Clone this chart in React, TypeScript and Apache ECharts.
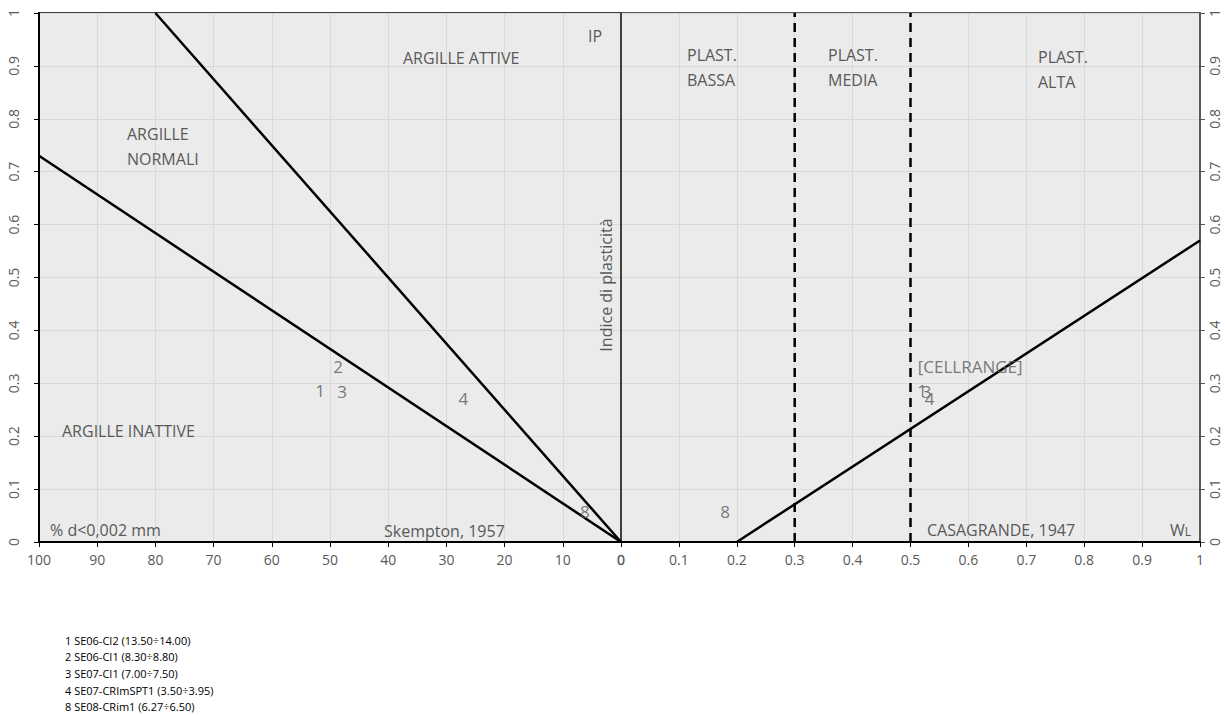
import { useEffect, useRef } from 'react';
import * as echarts from 'echarts';

// Samples: id, clay fraction (% d<0,002 mm), plasticity index, liquid limit
const sampleIds = ['1', '2', '3', '4', '8'];
const clayFraction = [51.7, 48.6, 47.9, 27.1, 6.2];
const plasticityIndex = [0.287, 0.331, 0.284, 0.272, 0.057];
const liquidLimit = [0.52, 0.603, 0.528, 0.533, 0.18];
const casagrandeLabels = ['1', '[CELLRANGE]', '3', '4', '8'];

const legendLines = [
  '1 SE06-CI2 (13.50÷14.00)',
  '2 SE06-CI1 (8.30÷8.80)',
  '3 SE07-CI1 (7.00÷7.50)',
  '4 SE07-CRImSPT1 (3.50÷3.95)',
  '8 SE08-CRim1 (6.27÷6.50)',
];

// Skempton activity lines (clay %, IP)
const inactiveLimit = [[100, 0.73], [0, 0]];
const activeLimit = [[80, 1], [0, 0]];
// Casagrande A-line (WL, IP)
const aLine = [[0.2, 0], [1, 0.57]];
// Plasticity class boundaries on WL
const plasticityBounds = [0.3, 0.5];

const FONT = 'Open Sans';
const GREY = '#595959';

function buildOption() {
  const axisLabel = { color: GREY, fontFamily: FONT, fontSize: 14 };
  const splitLine = { show: true, lineStyle: { color: '#d9d9d9', width: 1 } };
  const blackLine = { color: '#000', width: 2.5 };
  const pointLabel = {
    show: true,
    position: 'inside',
    color: GREY,
    fontFamily: FONT,
    fontSize: 17,
  };

  const txt = (text: string, x: number, y: number, extra: any = {}, rotation = 0) => ({
    type: 'text',
    x,
    y,
    rotation,
    silent: true,
    z: 100,
    style: {
      text,
      fill: GREY,
      font: `16px "${FONT}"`,
      verticalAlign: 'middle',
      align: 'left',
      lineHeight: 25,
      ...extra,
    },
  });

  return {
    animation: false,
    backgroundColor: '#fff',
    grid: [
      { left: 39, top: 13, width: 582, height: 529, show: true, backgroundColor: '#ebebeb', borderColor: '#404040', borderWidth: 2 },
      { left: 621, top: 13, width: 579, height: 529, show: true, backgroundColor: '#ebebeb', borderColor: '#595959', borderWidth: 2 },
    ],
    xAxis: [
      {
        gridIndex: 0, type: 'value', inverse: true, min: 0, max: 100, interval: 10,
        axisLine: { show: true, onZero: false, lineStyle: { color: '#000', width: 2 } },
        axisTick: { show: true, length: 5, lineStyle: { color: '#000' } },
        axisLabel: { ...axisLabel, margin: 10 },
        splitLine,
      },
      {
        gridIndex: 1, type: 'value', min: 0, max: 1, interval: 0.1,
        axisLine: { show: true, onZero: false, lineStyle: { color: '#000', width: 2 } },
        axisTick: { show: true, length: 5, lineStyle: { color: '#000' } },
        axisLabel: { ...axisLabel, margin: 10 },
        splitLine,
      },
    ],
    yAxis: [
      {
        gridIndex: 0, type: 'value', min: 0, max: 1, interval: 0.1,
        axisLine: { show: true, onZero: false, lineStyle: { color: '#000', width: 2 } },
        axisTick: { show: true, length: 5, lineStyle: { color: '#000' } },
        axisLabel: { ...axisLabel, rotate: 90, margin: 19 },
        splitLine,
      },
      {
        gridIndex: 1, type: 'value', position: 'right', min: 0, max: 1, interval: 0.1,
        axisLine: { show: true, onZero: false, lineStyle: { color: '#595959', width: 2 } },
        axisTick: { show: true, length: 5, lineStyle: { color: '#595959' } },
        axisLabel: { ...axisLabel, rotate: 90, margin: 7 },
        splitLine,
      },
      {
        // divider between the two diagrams (IP axis of the Casagrande chart)
        gridIndex: 1, type: 'value', position: 'left', min: 0, max: 1, interval: 0.1,
        axisLine: { show: true, onZero: false, lineStyle: { color: '#404040', width: 2 } },
        axisTick: { show: false },
        axisLabel: { show: false },
        splitLine: { show: false },
      },
    ],
    series: [
      { type: 'line', xAxisIndex: 0, yAxisIndex: 0, data: inactiveLimit, symbol: 'none', lineStyle: blackLine, silent: true },
      { type: 'line', xAxisIndex: 0, yAxisIndex: 0, data: activeLimit, symbol: 'none', lineStyle: blackLine, silent: true },
      {
        type: 'scatter', xAxisIndex: 0, yAxisIndex: 0, symbolSize: 1,
        itemStyle: { color: 'rgba(0,0,0,0)' },
        label: { ...pointLabel, formatter: (p: any) => p.name },
        data: sampleIds.map((id, i) => ({ name: id, value: [clayFraction[i], plasticityIndex[i]] })),
        z: 10,
      },
      { type: 'line', xAxisIndex: 1, yAxisIndex: 1, data: aLine, symbol: 'none', lineStyle: blackLine, silent: true },
      ...plasticityBounds.map((wl) => ({
        type: 'line', xAxisIndex: 1, yAxisIndex: 1, data: [[wl, 0], [wl, 1]], symbol: 'none', silent: true,
        lineStyle: { color: '#000', width: 2.5, type: [9, 6] },
      })),
      {
        type: 'scatter', xAxisIndex: 1, yAxisIndex: 1, symbolSize: 1,
        itemStyle: { color: 'rgba(0,0,0,0)' },
        label: { ...pointLabel, formatter: (p: any) => p.name },
        data: sampleIds.map((_, i) => ({ name: casagrandeLabels[i], value: [liquidLimit[i], plasticityIndex[i]] })),
        z: 10,
      },
    ],
    graphic: [
      txt('ARGILLE ATTIVE', 403, 58),
      txt('IP', 588, 36),
      txt('ARGILLE\nNORMALI', 127, 146),
      txt('ARGILLE INATTIVE', 62, 431),
      txt('% d<0,002 mm', 50, 530),
      txt('Skempton, 1957', 384, 531),
      txt('Indice di plasticità', 606, 285, { align: 'center' }, Math.PI / 2),
      txt('PLAST.\nBASSA', 687, 67),
      txt('PLAST.\nMEDIA', 828, 67),
      txt('PLAST.\nALTA', 1038, 69),
      txt('CASAGRANDE, 1947', 927, 530),
      {
        type: 'text', x: 1170, y: 530, z: 100, silent: true,
        style: {
          text: '{w|W}{l|L}',
          verticalAlign: 'middle',
          rich: {
            w: { fill: GREY, fontFamily: FONT, fontSize: 16 },
            l: { fill: GREY, fontFamily: FONT, fontSize: 12, padding: [3, 0, 0, 0] },
          },
        },
      },
      {
        type: 'text', x: 65, y: 632, silent: true,
        style: {
          text: legendLines.join('\n'),
          fill: '#000',
          font: `11px "${FONT}"`,
          lineHeight: 16.6,
          verticalAlign: 'top',
        },
      },
    ],
  };
}

export default function App() {
  const ref = useRef<HTMLDivElement>(null);
  useEffect(() => {
    if (!ref.current) return;
    const chart = echarts.init(ref.current, null, { renderer: 'svg' });
    chart.setOption(buildOption() as any);
    return () => chart.dispose();
  }, []);
  return <div ref={ref} style={{ position: 'fixed', left: 0, top: 0, width: 1225, height: 715 }} />;
}
